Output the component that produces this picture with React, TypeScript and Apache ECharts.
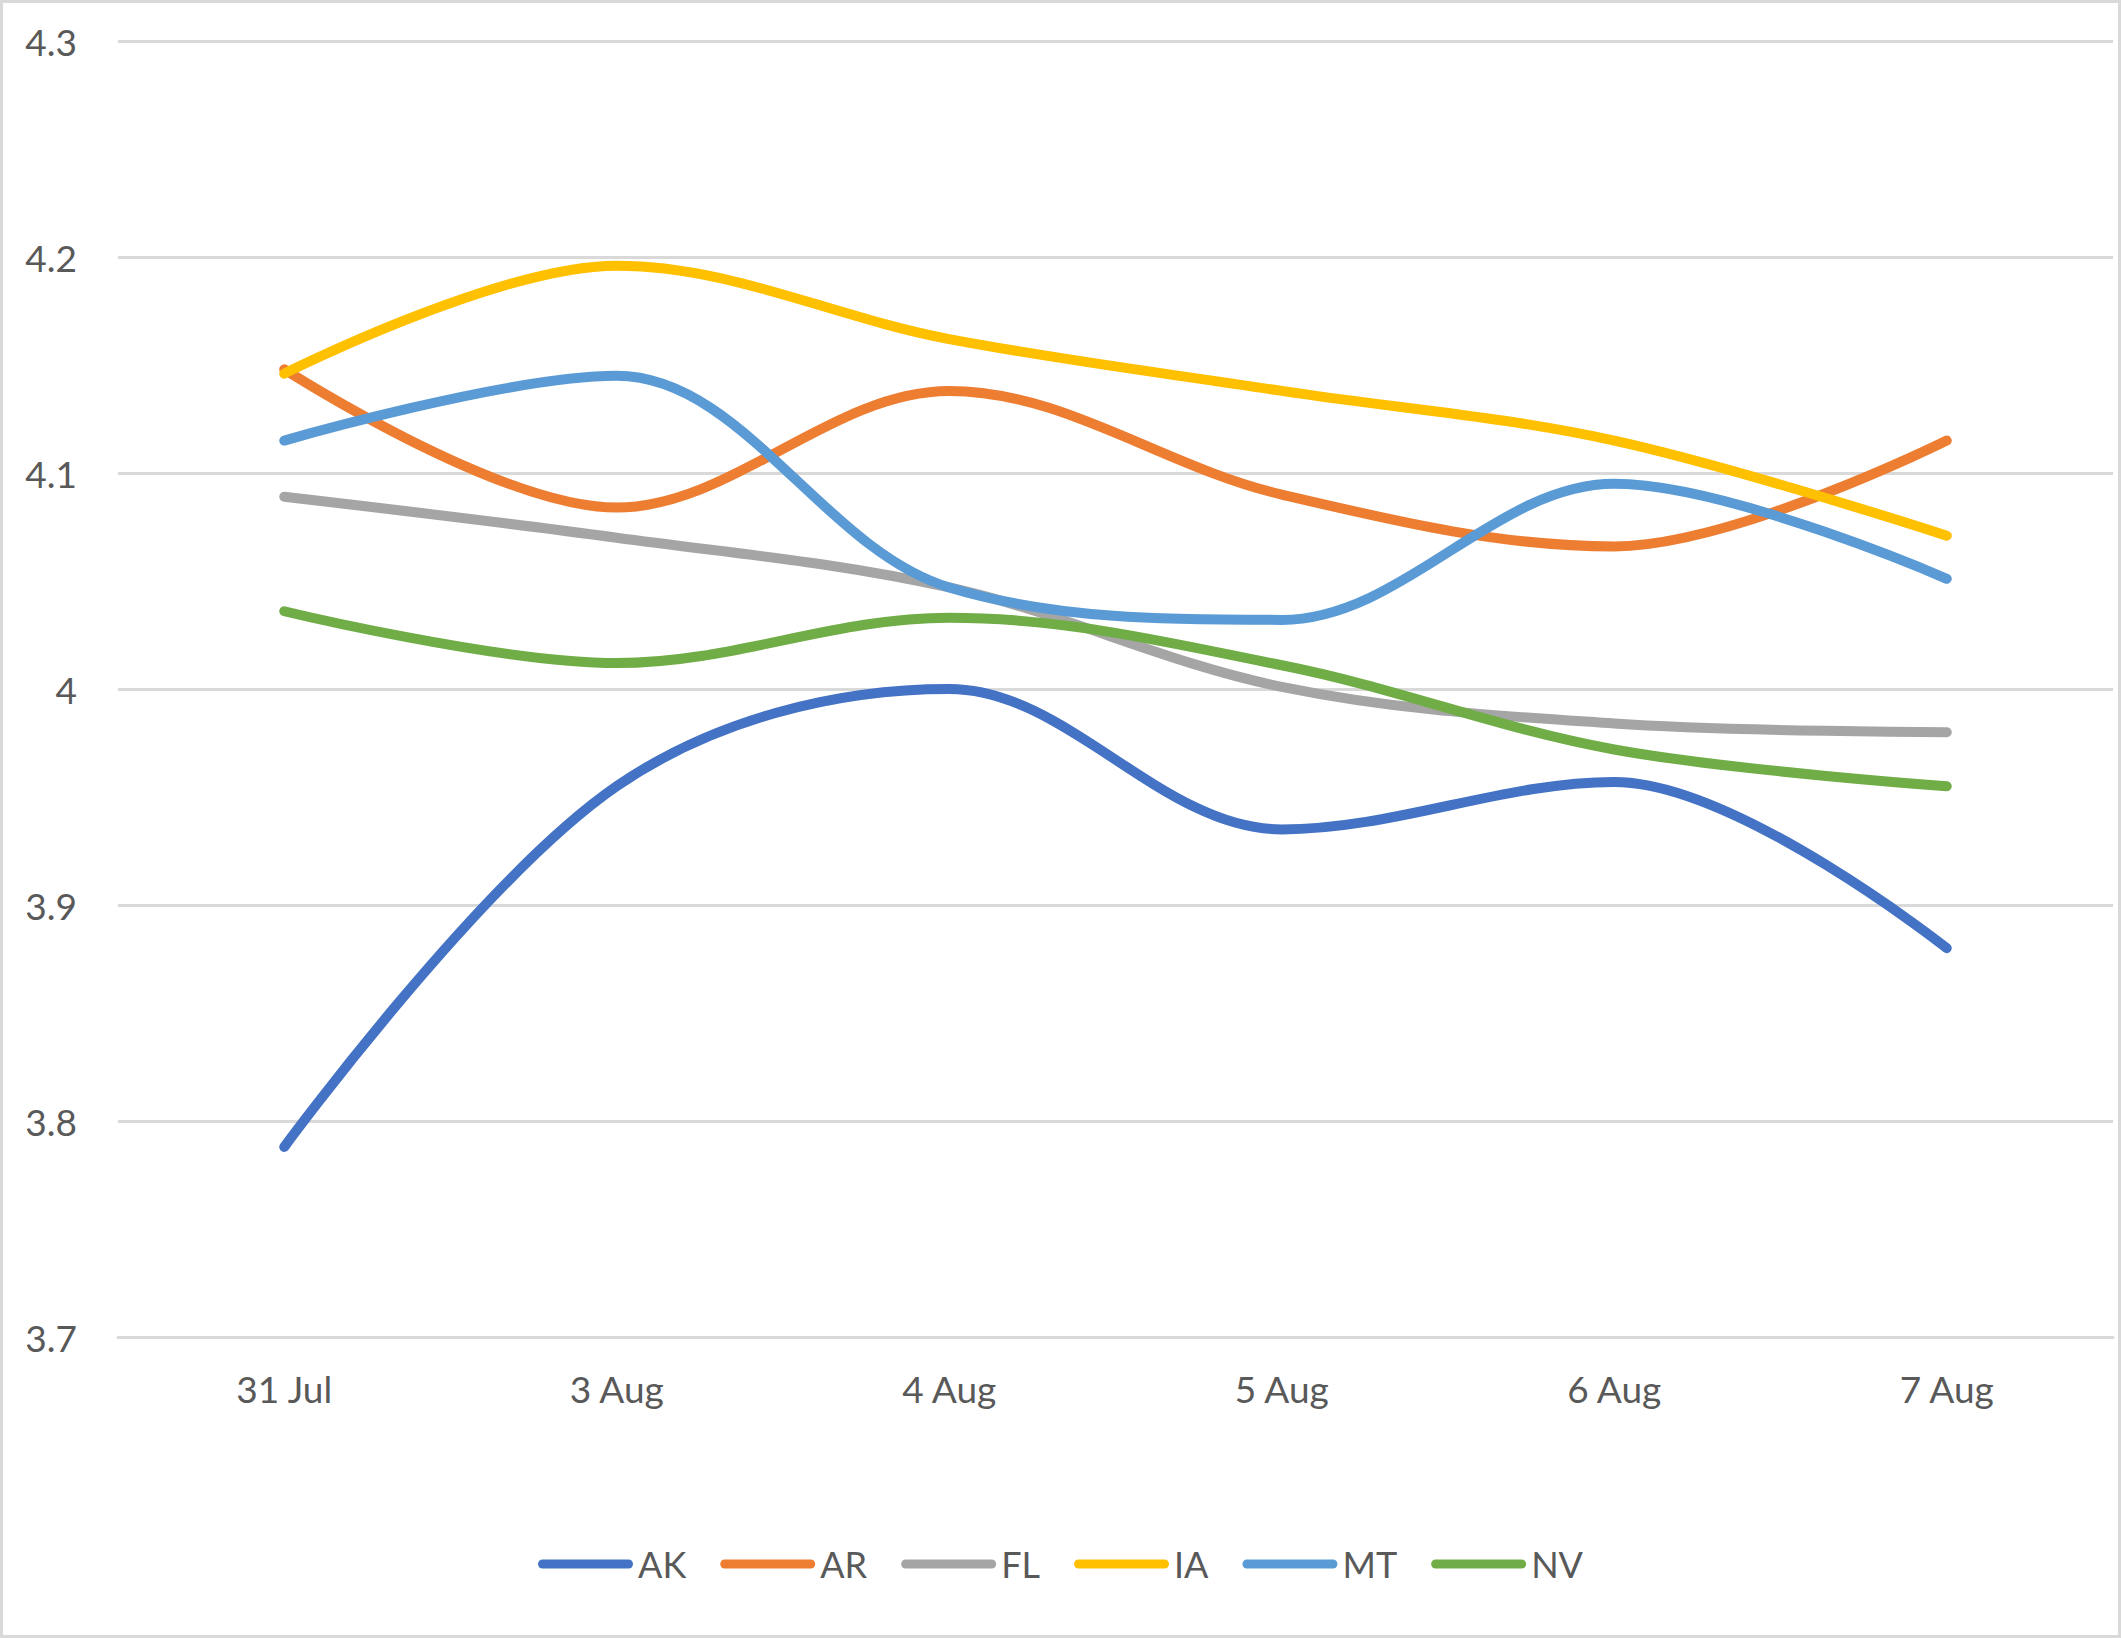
import { useEffect, useRef } from 'react'
import * as echarts from 'echarts'

const categories = ['31 Jul', '3 Aug', '4 Aug', '5 Aug', '6 Aug', '7 Aug']

const AK = [3.788, 3.955, 4.0, 3.935, 3.957, 3.88]
const AR = [4.148, 4.084, 4.138, 4.09, 4.066, 4.115]
const FL = [4.089, 4.07, 4.047, 4.001, 3.984, 3.98]
const IA = [4.146, 4.196, 4.162, 4.138, 4.115, 4.071]
const MT = [4.115, 4.145, 4.047, 4.032, 4.095, 4.051]
const NV = [4.036, 4.012, 4.033, 4.011, 3.972, 3.955]

const seriesList = [
  { name: 'AK', data: AK, color: '#4472C4' },
  { name: 'AR', data: AR, color: '#ED7D31' },
  { name: 'FL', data: FL, color: '#A5A5A5' },
  { name: 'IA', data: IA, color: '#FFC000' },
  { name: 'MT', data: MT, color: '#5B9BD5' },
  { name: 'NV', data: NV, color: '#70AD47' },
]

const FONT = 'Lato, "Open Sans", sans-serif'
// rounded bar for the legend keys (same aspect as itemWidth x itemHeight)
const KEY_ICON = 'path://M4.5,0 H90.5 A4.5,4.5 0 0 1 90.5,9 H4.5 A4.5,4.5 0 0 1 4.5,0 Z'

export default function App() {
  const ref = useRef<HTMLDivElement>(null)

  useEffect(() => {
    if (!ref.current) return
    document.body.style.margin = '0'
    const chart = echarts.init(ref.current, undefined, { renderer: 'svg' })

    chart.setOption({
      animation: false,
      backgroundColor: '#ffffff',
      textStyle: { fontFamily: FONT },
      graphic: [{
        type: 'rect',
        shape: { x: 1.5, y: 1.5, width: 2118, height: 1635 },
        style: { fill: 'none', stroke: '#d9d9d9', lineWidth: 3 },
        silent: true,
      }],
      grid: { left: 118, right: 8, top: 41, bottom: 301, outerBoundsMode: 'none' },
      legend: {
        bottom: 49,
        left: 'center',
        icon: KEY_ICON,
        itemWidth: 95,
        itemHeight: 9,
        itemGap: 34,
        textStyle: { color: '#595959', fontSize: 36, fontFamily: FONT, lineHeight: 40 },
        data: seriesList.map(s => s.name),
      },
      xAxis: {
        type: 'category',
        data: categories,
        boundaryGap: true,
        axisLine: { show: true, lineStyle: { color: '#d9d9d9', width: 3 } },
        axisTick: { show: false },
        axisLabel: { color: '#595959', fontSize: 37, fontFamily: FONT, margin: 33 },
      },
      yAxis: {
        type: 'value',
        min: 3.7,
        max: 4.3,
        interval: 0.1,
        axisLine: { show: false },
        axisTick: { show: false },
        splitLine: { lineStyle: { color: '#d9d9d9', width: 3 } },
        axisLabel: { color: '#595959', fontSize: 37, fontFamily: FONT, margin: 41 },
      },
      series: seriesList.map(s => ({
        name: s.name,
        type: 'line',
        data: s.data,
        smooth: 0.35,
        symbol: 'none',
        color: s.color,
        itemStyle: { color: s.color },
        lineStyle: { color: s.color, width: 10, cap: 'round' },
      })),
    })

    return () => chart.dispose()
  }, [])

  return <div ref={ref} style={{ position: 'absolute', left: 0, top: 0, width: 2121, height: 1638 }} />
}
